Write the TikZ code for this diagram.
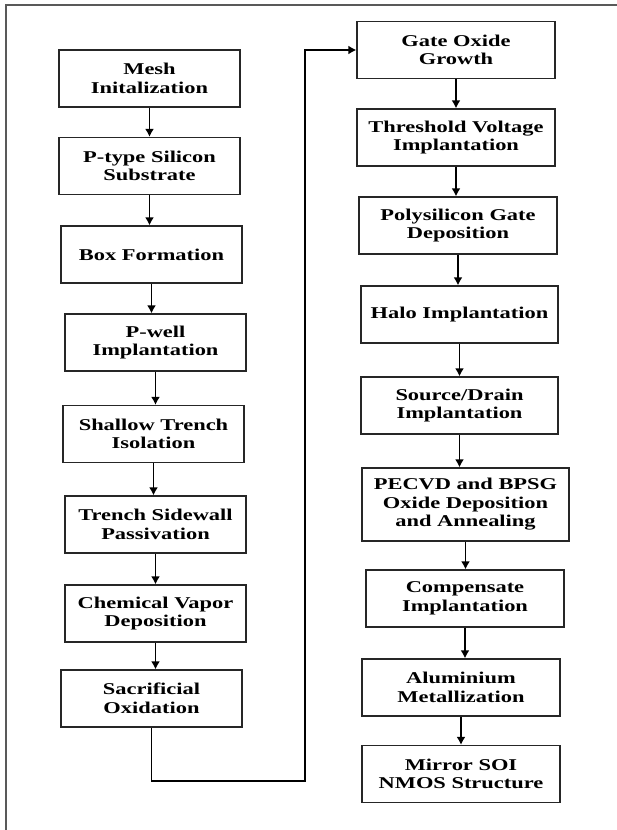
\documentclass[tikz,border=0pt]{standalone}
\usepackage{fontspec}
\setmainfont{Liberation Serif}[FakeStretch=1.36]
\usetikzlibrary{arrows.meta}
\begin{document}
\begin{tikzpicture}[x=1pt,y=-1pt,
  stepbox/.style={draw=black!85,line width=1.3pt,fill=white,align=center,
    inner sep=2pt,minimum width=181pt,minimum height=57pt,
    font=\bfseries\fontsize{16.5}{18.5}\selectfont},
  flow/.style={-{Latex[length=8pt,width=9pt]},line width=1.5pt}]

\useasboundingbox (0,0) rectangle (617,830);

% Cadre
\draw[gray!70!black,line width=1.6pt]
(617,5)
-- (6,5)
-- (6,830);

% Colonne gauche
\node[stepbox] (mesh) at (149.5,78.5) {Mesh\\Initalization};
\node[stepbox] (ptype) at (149.5,166) {P-type Silicon\\Substrate};
\node[stepbox] (boxf) at (151.5,254.5) {Box Formation};
\node[stepbox] (pwell) at (155.5,342.5) {P-well\\Implantation};
\node[stepbox] (sti) at (153.5,434) {Shallow Trench\\Isolation};
\node[stepbox] (tsp) at (155.5,524.5) {Trench Sidewall\\Passivation};
\node[stepbox] (cvd) at (155.5,613.5) {Chemical Vapor\\Deposition};
\node[stepbox] (sac) at (151.5,698.5) {Sacrificial\\Oxidation};

% Colonne droite
\node[stepbox,minimum width=198pt] (gox) at (456,50) {Gate Oxide\\Growth};
\node[stepbox,minimum width=198pt] (vt) at (456,137.5) {Threshold Voltage\\Implantation};
\node[stepbox,minimum width=198pt] (poly) at (458,225.5) {Polysilicon Gate\\Deposition};
\node[stepbox,minimum width=197pt] (halo) at (459.5,314.5) {Halo Implantation};
\node[stepbox,minimum width=197pt] (sd) at (459.5,405.5) {Source/Drain\\Implantation};
\node[stepbox,minimum width=207pt,minimum height=73pt] (pecvd) at (465.5,504.5) {PECVD and BPSG\\Oxide Deposition\\and Annealing};
\node[stepbox,minimum width=198pt] (comp) at (465,598.5) {Compensate\\Implantation};
\node[stepbox,minimum width=198pt] (alu) at (461,687.5) {Aluminium\\Metallization};
\node[stepbox,minimum width=198pt] (nmos) at (461,774) {Mirror SOI\\NMOS Structure};

% Fleches
\draw[flow] (mesh.south) -- (mesh.south |- ptype.north);
\draw[flow] (ptype.south) -- (ptype.south |- boxf.north);
\draw[flow] (boxf.south) -- (boxf.south |- pwell.north);
\draw[flow] (pwell.south) -- (pwell.south |- sti.north);
\draw[flow] (sti.south) -- (sti.south |- tsp.north);
\draw[flow] (tsp.south) -- (tsp.south |- cvd.north);
\draw[flow] (cvd.south) -- (cvd.south |- sac.north);

\draw[flow] (gox.south) -- (gox.south |- vt.north);
\draw[flow] (vt.south) -- (vt.south |- poly.north);
\draw[flow] (poly.south) -- (poly.south |- halo.north);
\draw[flow] (halo.south) -- (halo.south |- sd.north);
\draw[flow] (sd.south) -- (sd.south |- pecvd.north);
\draw[flow] (pecvd.south) -- (pecvd.south |- comp.north);
\draw[flow] (comp.south) -- (comp.south |- alu.north);
\draw[flow] (alu.south) -- (alu.south |- nmos.north);

% Retour
\coordinate (bend) at (305,781);
\draw[flow]
(sac.south)
|- (bend)
|- (gox.west);

\end{tikzpicture}
\end{document}
